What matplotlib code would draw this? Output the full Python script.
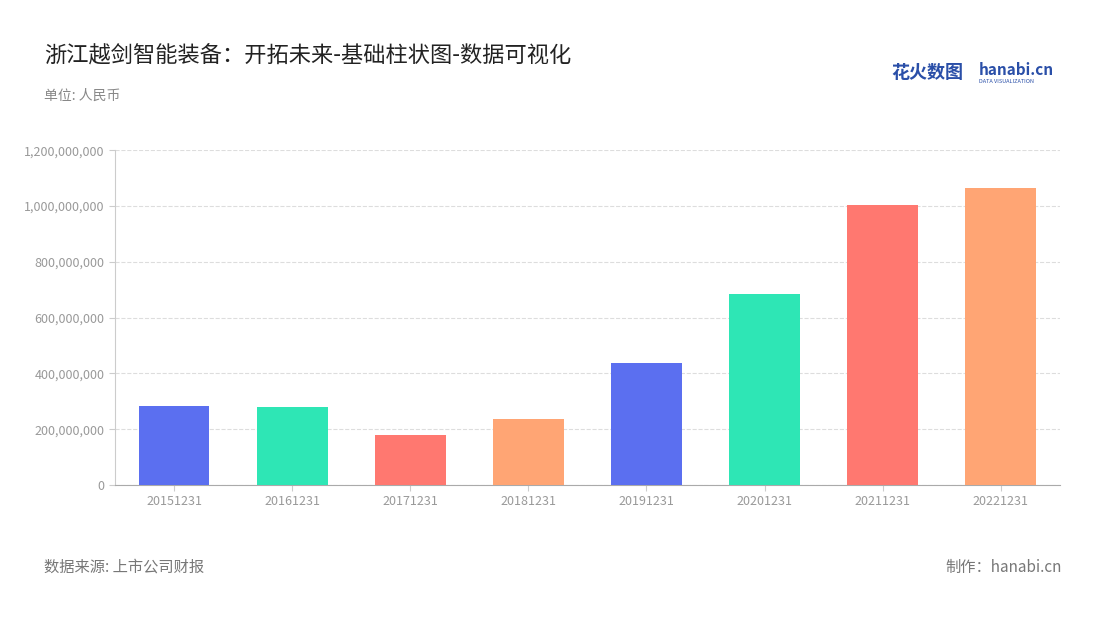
import matplotlib.pyplot as plt
from matplotlib.ticker import FuncFormatter

plt.rcParams['font.family'] = ['Noto Sans CJK SC', 'DejaVu Sans']

dates = ['20151231', '20161231', '20171231', '20181231',
         '20191231', '20201231', '20211231', '20221231']
values = [283e6, 280e6, 179e6, 236e6, 437e6, 684e6, 1003e6, 1064e6]
palette = ['#5B6FF0', '#2EE6B5', '#FF7870', '#FFA574']
colors = [palette[i % 4] for i in range(len(dates))]

fig = plt.figure(figsize=(11, 6.2), dpi=100)
ax = fig.add_axes([0.1045, 0.2177, 0.859, 0.540])

ax.bar(range(len(dates)), values, width=0.6, color=colors, zorder=3)
ax.set_xlim(-0.5, len(dates) - 0.5)
ax.set_ylim(0, 1.2e9)
ax.set_yticks([i * 2e8 for i in range(7)])
ax.yaxis.set_major_formatter(FuncFormatter(lambda v, p: f'{int(v):,}'))
ax.set_xticks(range(len(dates)))
ax.set_xticklabels(dates)
ax.tick_params(axis='both', colors='#999999', labelsize=9, length=4)
ax.tick_params(axis='y', length=4, color='#cccccc')
ax.tick_params(axis='x', color='#cccccc')
ax.grid(axis='y', linestyle='--', color='#dddddd', zorder=0)
for s in ['top', 'right']:
    ax.spines[s].set_visible(False)
ax.spines['left'].set_color('#cccccc')
ax.spines['bottom'].set_color('#aaaaaa')

fig.text(0.04, 0.91, '浙江越剑智能装备：开拓未来-基础柱状图-数据可视化', fontsize=16, color='#222222', va='center')
fig.text(0.04, 0.845, '单位: 人民币', fontsize=10, color='#888888', va='center')
fig.text(0.04, 0.085, '数据来源: 上市公司财报', fontsize=11, color='#777777', va='center')
fig.text(0.965, 0.085, '制作：hanabi.cn', fontsize=11, color='#777777', va='center', ha='right')
fig.text(0.81, 0.883, '花火数图', fontsize=13, color='#2a4fa8', fontweight='bold', va='center')
fig.text(0.89, 0.887, 'hanabi.cn', fontsize=11, color='#2a4fa8', fontweight='bold', va='center')
fig.text(0.89, 0.868, 'DATA VISUALIZATION', fontsize=4, color='#2a4fa8', va='center')

fig.savefig('out.png', dpi=100)
